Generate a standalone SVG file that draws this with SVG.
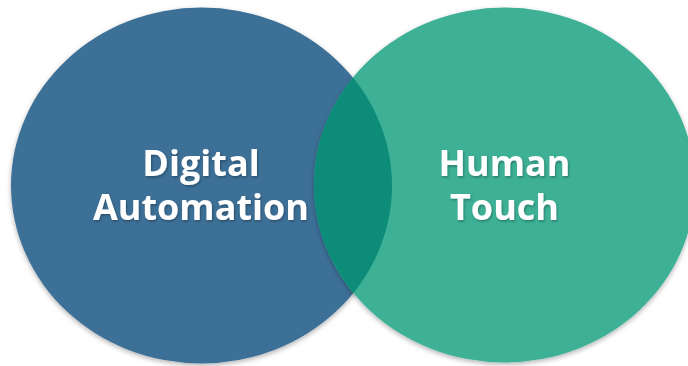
<svg xmlns="http://www.w3.org/2000/svg" width="688" height="366" viewBox="0 0 688 366">
<style>
.lbl{font-family:"Open Sans","Liberation Sans",sans-serif;font-weight:700;font-size:36px;fill:#ffffff;text-anchor:middle}
</style>
<defs>
<filter id="sh" x="-10%" y="-10%" width="120%" height="120%">
<feDropShadow dx="0" dy="2" stdDeviation="2.5" flood-color="#000" flood-opacity="0.3"/>
</filter>
<filter id="tsh" x="-10%" y="-20%" width="120%" height="140%">
<feDropShadow dx="1" dy="1.5" stdDeviation="1" flood-color="#000" flood-opacity="0.3"/>
</filter>
<clipPath id="rc">
<ellipse cx="504.5" cy="185" rx="190.5" ry="177.5"/>
</clipPath>
</defs>
<rect width="688" height="366" fill="#ffffff"/>
<g id="digital-automation">
<ellipse cx="201.5" cy="185.5" rx="190.5" ry="178" fill="#3E7097" filter="url(#sh)"/>
</g>
<g id="human-touch">
<ellipse cx="504.5" cy="185" rx="190.5" ry="177.5" fill="#3CB096" filter="url(#sh)"/>
<ellipse cx="201.5" cy="185.5" rx="190.5" ry="178" fill="#0E8C7A" clip-path="url(#rc)"/>
</g>
<g id="labels" filter="url(#tsh)">
<text class="lbl" x="201" y="176">Digital</text>
<text class="lbl" x="201" y="220">Automation</text>
<text class="lbl" x="504.5" y="176">Human</text>
<text class="lbl" x="504.5" y="220">Touch</text>
</g>
<g id="connectors"/>
</svg>
